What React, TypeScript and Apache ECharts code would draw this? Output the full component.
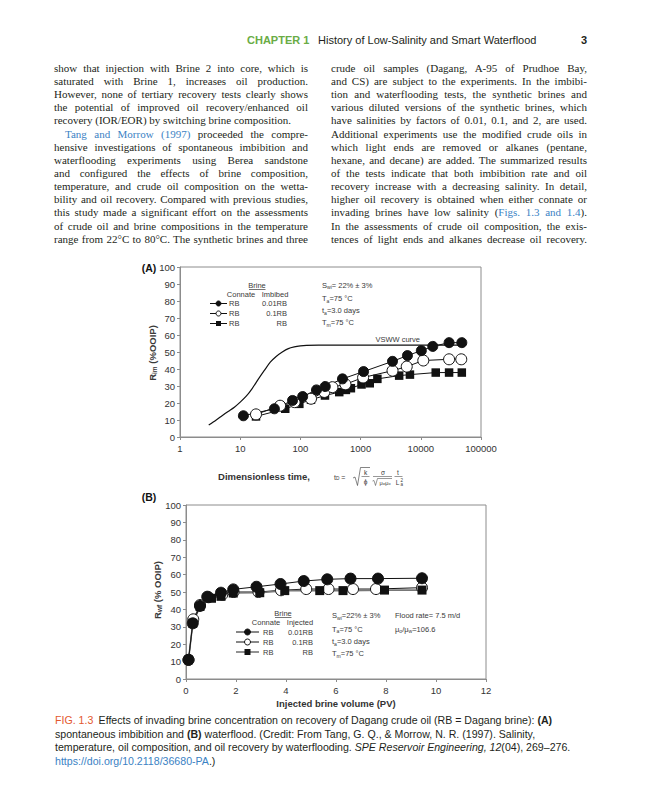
import React, { useEffect, useRef } from "react";
import * as echarts from "echarts";

// ---------- Chart (A): spontaneous imbibition ----------
const aTime001 = [11.3, 37, 74, 109, 185, 259, 500, 1120, 3390, 6000, 10200, 15800, 29500, 48000];
const aRec001 = [12.5, 16.6, 21.5, 23.8, 27.7, 29.7, 34.2, 38.5, 44.5, 47.9, 50.8, 53.3, 55.5, 55.5];
const aTime01 = [18.3, 46, 80, 150, 250, 340, 560, 1100, 3390, 5840, 11000, 29500, 47000];
const aRec01 = [13.3, 18.4, 20.5, 22.5, 26.5, 29.3, 31, 35, 39, 41.4, 45, 45.7, 45.7];
const aTimeRB = [18.3, 56, 96, 150, 256, 442, 570, 690, 1035, 1420, 1900, 4370, 6600, 17700, 29500, 48000];
const aRecRB = [12.1, 16.6, 19.5, 21.9, 24.4, 26.4, 27.7, 28.7, 30.9, 31.6, 34.2, 36.1, 36.7, 37.9, 37.9, 37.9];
const vswwTime = [3, 4, 5, 6.3, 8, 10, 12.6, 15.8, 20, 25, 31.6, 40, 50, 63, 79, 100, 126, 200, 1000, 10000, 48000];
const vswwRec = [7, 10, 12.5, 15, 17.5, 20.5, 24, 28.5, 34, 39, 44, 47.5, 50, 52, 53, 53.6, 53.9, 54, 54, 54, 54];

// ---------- Chart (B): waterflood ----------
const bPv001 = [0.1, 0.27, 0.56, 0.85, 1.4, 1.89, 2.82, 3.78, 4.71, 5.65, 6.58, 7.68, 9.44];
const bRec001 = [11, 32, 42, 47.3, 49.6, 51.5, 53, 54.6, 56.3, 57.3, 57.7, 57.7, 57.9];
const bPv01 = [0.1, 0.29, 0.56, 0.9, 1.45, 1.9, 2.9, 3.8, 4.81, 5.7, 6.68, 7.6, 9.44];
const bRec01 = [11, 34.3, 42.5, 47, 48.5, 50, 50, 51, 51.7, 51.7, 51.7, 51.7, 52.5];
const bPvRB = [0.1, 0.27, 0.56, 1.02, 1.4, 1.89, 2.95, 3.95, 5.35, 6.28, 7.94, 9.44];
const bRecRB = [11, 32, 41.7, 46.4, 47.5, 49.4, 49.6, 50.8, 50.8, 50.8, 51.1, 51.1];

const yTicks = [0, 100, 10]; // min, max, interval
const bXTicks = [0, 12, 2];

// ---------- Page text ----------
type Seg = [string, string?];
type Line = { segs: Seg[]; last?: boolean; indent?: boolean };

const leftCol: Line[] = [
  { segs: [["show that injection with Brine 2 into core, which is"]] },
  { segs: [["saturated with Brine 1, increases oil production."]] },
  { segs: [["However, none of tertiary recovery tests clearly shows"]] },
  { segs: [["the potential of improved oil recovery/enhanced oil"]] },
  { segs: [["recovery (IOR/EOR) by switching brine composition."]], last: true },
  { segs: [["Tang and Morrow (1997)", "link"], [" proceeded the compre-"]], indent: true },
  { segs: [["hensive investigations of spontaneous imbibition and"]] },
  { segs: [["waterflooding experiments using Berea sandstone"]] },
  { segs: [["and configured the effects of brine composition,"]] },
  { segs: [["temperature, and crude oil composition on the wetta-"]] },
  { segs: [["bility and oil recovery. Compared with previous studies,"]] },
  { segs: [["this study made a significant effort on the assessments"]] },
  { segs: [["of crude oil and brine compositions in the temperature"]] },
  { segs: [["range from 22°C to 80°C. The synthetic brines and three"]] },
];

const rightCol: Line[] = [
  { segs: [["crude oil samples (Dagang, A-95 of Prudhoe Bay,"]] },
  { segs: [["and CS) are subject to the experiments. In the imbibi-"]] },
  { segs: [["tion and waterflooding tests, the synthetic brines and"]] },
  { segs: [["various diluted versions of the synthetic brines, which"]] },
  { segs: [["have salinities by factors of 0.01, 0.1, and 2, are used."]] },
  { segs: [["Additional experiments use the modified crude oils in"]] },
  { segs: [["which light ends are removed or alkanes (pentane,"]] },
  { segs: [["hexane, and decane) are added. The summarized results"]] },
  { segs: [["of the tests indicate that both imbibition rate and oil"]] },
  { segs: [["recovery increase with a decreasing salinity. In detail,"]] },
  { segs: [["higher oil recovery is obtained when either connate or"]] },
  { segs: [["invading brines have low salinity ("], ["Figs. 1.3 and 1.4", "link"], [")."]] },
  { segs: [["In the assessments of crude oil composition, the exis-"]] },
  { segs: [["tences of light ends and alkanes decrease oil recovery."]] },
];

const captionLines: Seg[][] = [
  [["FIG. 1.3", "fig"], ["\u2002Effects of invading brine concentration on recovery of Dagang crude oil (RB = Dagang brine): "], ["(A)", "b"]],
  [["spontaneous imbibition and "], ["(B)", "b"], [" waterflood. (Credit: From Tang, G. Q., & Morrow, N. R. (1997). Salinity,"]],
  [["temperature, oil composition, and oil recovery by waterflooding. "], ["SPE Reservoir Engineering, 12", "i"], ["(04), 269–276."]],
  [["https://doi.org/10.2118/36680-PA", "link"], [".)"]],
];

const F = "'Liberation Sans', Arial, Helvetica, sans-serif";
const GRAY = "#8c8c8c";
const TXT = "#3a3a3a";
const LINK = "#3b82c4";

function T(x: number, y: number, text: string, o: any = {}) {
  const align = o.align || "left";
  const va = o.va || "middle";
  return {
    type: "text",
    x,
    y,
    rotation: o.rotation || 0,
    z: 100,
    style: {
      text,
      fontSize: o.size || 7.5,
      fontFamily: F,
      fontWeight: o.weight || "normal",
      fill: o.color || TXT,
      align,
      verticalAlign: va,
      rich: o.rich,
    },
  };
}

const subRich = (size: number, weight = "normal") => ({
  s: { fontSize: size * 0.68, fontFamily: F, fontWeight: weight, fill: TXT, padding: [size * 0.55, 0, 0, 0] },
});

function L(x1: number, y1: number, x2: number, y2: number, color = "#111", w = 1) {
  return { type: "line", z: 100, shape: { x1, y1, x2, y2 }, style: { stroke: color, lineWidth: w } };
}

function legendRow(x0: number, x1: number, y: number, kind: string, size: number, lineColor = "#111", lw = 1) {
  const cx = (x0 + x1) / 2;
  const els: any[] = [L(x0, y, x1, y, lineColor, lw)];
  if (kind === "rect") {
    els.push({ type: "rect", z: 101, shape: { x: cx - size / 2, y: y - size / 2, width: size, height: size }, style: { fill: "#111" } });
  } else {
    els.push({
      type: "circle",
      z: 101,
      shape: { cx, cy: y, r: size / 2 },
      style: { fill: kind === "open" ? "#fff" : "#111", stroke: "#111", lineWidth: 1 },
    });
  }
  return els;
}

function zip(xs: number[], ys: number[]) {
  return xs.map((x, i) => [x, ys[i]]);
}

function buildOption() {
  const axisCommon = {
    axisLine: { show: true, lineStyle: { color: GRAY, width: 1 } },
    axisTick: { show: true, length: 3, lineStyle: { color: GRAY } },
    splitLine: { show: false },
    axisLabel: { color: "#333", fontSize: 9.5, fontFamily: F },
  };
  const yAx = (gridIndex: number) => ({
    ...axisCommon,
    type: "value",
    gridIndex,
    min: yTicks[0],
    max: yTicks[1],
    interval: yTicks[2],
    axisLabel: { ...axisCommon.axisLabel, margin: 5 },
  });

  const annRich = subRich(7.5);
  const graphic: any[] = [
    // ----- (A) -----
    T(149, 268, "(A)", { size: 10.5, weight: "bold", color: "#111", align: "center" }),
    T(152, 353, "{b|R}{bs|im}{b| (%OOIP)}", {
      rotation: Math.PI / 2,
      align: "center",
      rich: {
        b: { fontSize: 9.5, fontWeight: "bold", fill: TXT, fontFamily: F },
        bs: { fontSize: 6.5, fontWeight: "bold", fill: TXT, fontFamily: F, padding: [5, 0, 0, 0] },
      },
    }),
    T(257, 285, "Brine", { align: "center" }),
    L(249, 289.5, 265.5, 289.5, TXT, 0.7),
    T(241, 294.5, "Connate", { align: "center" }),
    T(275, 294.5, "Imbibed", { align: "center" }),
    ...legendRow(210, 227, 303.5, "fill", 5),
    ...legendRow(210, 227, 313.5, "open", 5),
    ...legendRow(210, 227, 323.5, "rect", 5),
    T(229, 303.5, "RB"), T(229, 313.5, "RB"), T(229, 323.5, "RB"),
    T(287, 303.5, "0.01RB", { align: "right" }),
    T(287, 313.5, "0.1RB", { align: "right" }),
    T(287, 323.5, "RB", { align: "right" }),
    T(322, 285, "S{s|wi}= 22% ± 3%", { rich: annRich }),
    T(322, 298.5, "T{s|a}=75 °C", { rich: annRich }),
    T(322, 310.5, "t{s|a}=3.0 days", { rich: annRich }),
    T(322, 322.5, "T{s|m}=75 °C", { rich: annRich }),
    T(420, 339, "VSWW curve", { align: "right" }),
    T(264, 476, "Dimensionless time,", { size: 9.5, weight: "bold", align: "center", color: "#333" }),
    // formula
    T(334, 477, "t{s|D} =", { size: 7, rich: subRich(7) }),
    { type: "polyline", z: 100, shape: { points: [[353, 478], [355, 477], [357.5, 485.5], [360.5, 467.5], [370, 467.5]] }, style: { stroke: "#333", lineWidth: 0.6, fill: null } },
    T(365.5, 472, "k", { size: 6.5, align: "center" }),
    L(361.5, 476.5, 369.5, 476.5, "#333", 0.5),
    T(365.5, 481.5, "ϕ", { size: 6.5, align: "center" }),
    T(383, 472, "σ", { size: 6.5, align: "center" }),
    L(373, 476.5, 392, 476.5, "#333", 0.5),
    { type: "polyline", z: 100, shape: { points: [[372.5, 481], [374, 480.5], [375.5, 485.5], [377.5, 478.5], [392, 478.5]] }, style: { stroke: "#333", lineWidth: 0.5, fill: null } },
    T(385, 482.5, "μ{s|w}μ{s|o}", { size: 5.5, align: "center", rich: subRich(5.5) }),
    T(398, 472, "t", { size: 6.5, align: "center" }),
    L(394.5, 476.5, 402.5, 476.5, "#333", 0.5),
    T(397.5, 482, "L", { size: 6.5, align: "center" }),
    T(400.5, 480, "2", { size: 4.5, align: "left" }),
    T(400.5, 484.5, "a", { size: 4.5, align: "left" }),

    // ----- (B) -----
    T(149, 497, "(B)", { size: 10.5, weight: "bold", color: "#111", align: "center" }),
    T(157, 590, "{b|R}{bs|wf}{b| (% OOIP)}", {
      rotation: Math.PI / 2,
      align: "center",
      rich: {
        b: { fontSize: 9.5, fontWeight: "bold", fill: TXT, fontFamily: F },
        bs: { fontSize: 6.5, fontWeight: "bold", fill: TXT, fontFamily: F, padding: [5, 0, 0, 0] },
      },
    }),
    T(336, 703, "Injected brine volume (PV)", { size: 9.5, weight: "bold", align: "center", color: "#333" }),
    T(283, 613, "Brine", { align: "center" }),
    L(275, 617.5, 291.5, 617.5, TXT, 0.7),
    T(266, 622.5, "Connate", { align: "center" }),
    T(300, 622.5, "Injected", { align: "center" }),
    ...legendRow(236, 259, 632, "fill", 6),
    ...legendRow(236, 259, 642, "open", 6),
    ...legendRow(236, 259, 652, "rect", 6, "#777", 1.6),
    T(263, 632, "RB"), T(263, 642, "RB"), T(263, 652, "RB"),
    T(313, 632, "0.01RB", { align: "right" }),
    T(313, 642, "0.1RB", { align: "right" }),
    T(313, 652, "RB", { align: "right" }),
    T(332, 615.5, "S{s|wi}=22% ± 3%", { rich: annRich }),
    T(332, 629, "T{s|a}=75 °C", { rich: annRich }),
    T(332, 641.5, "t{s|a}=3.0 days", { rich: annRich }),
    T(332, 653.5, "T{s|m}=75 °C", { rich: annRich }),
    T(395, 615.5, "Flood rate= 7.5 m/d", {}),
    T(395, 629, "μ{s|o}/μ{s|w}=106.6", { rich: annRich }),
  ];

  const filled = (size: number) => ({ symbol: "circle", symbolSize: size, itemStyle: { color: "#111", borderColor: "#111", borderWidth: 1 } });
  const open = (size: number) => ({ symbol: "circle", symbolSize: size, itemStyle: { color: "#fff", borderColor: "#111", borderWidth: 1 } });
  const square = (size: number) => ({ symbol: "rect", symbolSize: size, itemStyle: { color: "#111" } });

  return {
    animation: false,
    backgroundColor: "#fff",
    grid: [
      { left: 180, top: 267, width: 301, height: 170, show: true, borderColor: GRAY, borderWidth: 1, backgroundColor: "transparent" },
      { left: 186, top: 505, width: 300, height: 174, show: true, borderColor: GRAY, borderWidth: 1, backgroundColor: "transparent" },
    ],
    xAxis: [
      {
        ...axisCommon,
        type: "log",
        logBase: 10,
        gridIndex: 0,
        min: 1,
        max: 100000,
        minorTick: { show: false },
        axisLabel: { ...axisCommon.axisLabel, margin: 6, formatter: (v: number) => String(Math.round(v)) },
      },
      {
        ...axisCommon,
        type: "value",
        gridIndex: 1,
        min: bXTicks[0],
        max: bXTicks[1],
        interval: bXTicks[2],
        axisLabel: { ...axisCommon.axisLabel, margin: 6 },
      },
    ],
    yAxis: [yAx(0), yAx(1)],
    series: [
      {
        type: "line",
        xAxisIndex: 0,
        yAxisIndex: 0,
        data: zip(vswwTime, vswwRec),
        smooth: 0.3,
        showSymbol: false,
        symbol: "none",
        lineStyle: { color: "#111", width: 1.2 },
      },
      { type: "line", xAxisIndex: 0, yAxisIndex: 0, data: zip(aTimeRB, aRecRB), ...square(8.5), lineStyle: { color: "#111", width: 1 } },
      { type: "line", xAxisIndex: 0, yAxisIndex: 0, data: zip(aTime01, aRec01), ...open(11), lineStyle: { color: "#111", width: 1 } },
      { type: "line", xAxisIndex: 0, yAxisIndex: 0, data: zip(aTime001, aRec001), ...filled(10), lineStyle: { color: "#111", width: 1 } },

      { type: "line", xAxisIndex: 1, yAxisIndex: 1, data: zip(bPv01, bRec01), ...open(11), lineStyle: { color: "#111", width: 1 } },
      { type: "line", xAxisIndex: 1, yAxisIndex: 1, data: zip(bPvRB, bRecRB), ...square(9), lineStyle: { color: "#777", width: 1.6 } },
      { type: "line", xAxisIndex: 1, yAxisIndex: 1, data: zip(bPv001, bRec001), ...filled(11), lineStyle: { color: "#111", width: 1 } },
    ],
    graphic,
  };
}

function segStyle(kind?: string): React.CSSProperties {
  if (kind === "link") return { color: LINK };
  if (kind === "fig") return { color: "#e3582e" };
  if (kind === "b") return { fontWeight: "bold" };
  if (kind === "i") return { fontStyle: "italic" };
  return {};
}

function Column({ lines, left, width }: { lines: Line[]; left: number; width: number }) {
  return (
    <div
      style={{
        position: "absolute",
        left,
        top: 61.9,
        width,
        fontFamily: "'Liberation Serif', 'Times New Roman', serif",
        fontSize: 11,
        lineHeight: "13.15px",
        color: "#231f20",
      }}
    >
      {lines.map((ln, i) => (
        <div
          key={i}
          style={{
            whiteSpace: "nowrap",
            textAlign: ln.last ? "left" : "justify",
            textAlignLast: ln.last ? "left" : "justify",
            paddingLeft: ln.indent ? 11 : 0,
            height: 13.15,
          }}
        >
          {ln.segs.map((s, j) => (
            <span key={j} style={segStyle(s[1])}>
              {s[0]}
            </span>
          ))}
        </div>
      ))}
    </div>
  );
}

const headStyle: React.CSSProperties = {
  position: "absolute",
  top: 33,
  lineHeight: "14px",
  fontFamily: F,
  fontSize: 11,
  whiteSpace: "nowrap",
  color: "#231f20",
};

export default function App() {
  const ref = useRef<HTMLDivElement>(null);
  useEffect(() => {
    const chart = echarts.init(ref.current as HTMLDivElement, null, { renderer: "svg" });
    chart.setOption(buildOption() as any);
    return () => chart.dispose();
  }, []);

  return (
    <div style={{ position: "absolute", left: 0, top: 0, width: 648, height: 800, background: "#fff", overflow: "hidden" }}>
      <div ref={ref} style={{ position: "absolute", left: 0, top: 0, width: 648, height: 800 }} />
      <div style={{ position: "absolute", left: 0, top: 0, width: 648, height: 800, pointerEvents: "none" }}>
        <div style={{ ...headStyle, left: 247, color: "#6aac45", fontWeight: "bold" }}>CHAPTER 1</div>
        <div style={{ ...headStyle, left: 318 }}>History of Low-Salinity and Smart Waterflood</div>
        <div style={{ ...headStyle, left: 581, fontWeight: "bold" }}>3</div>
        <Column lines={leftCol} left={54} width={254} />
        <Column lines={rightCol} left={331} width={256} />
        <div
          style={{
            position: "absolute",
            left: 55,
            top: 714.2,
            fontFamily: F,
            fontSize: 10.6,
            lineHeight: "13.6px",
            color: "#231f20",
            whiteSpace: "nowrap",
          }}
        >
          {captionLines.map((ln, i) => (
            <div key={i}>
              {ln.map((s, j) => (
                <span key={j} style={segStyle(s[1])}>
                  {s[0]}
                </span>
              ))}
            </div>
          ))}
        </div>
      </div>
    </div>
  );
}
